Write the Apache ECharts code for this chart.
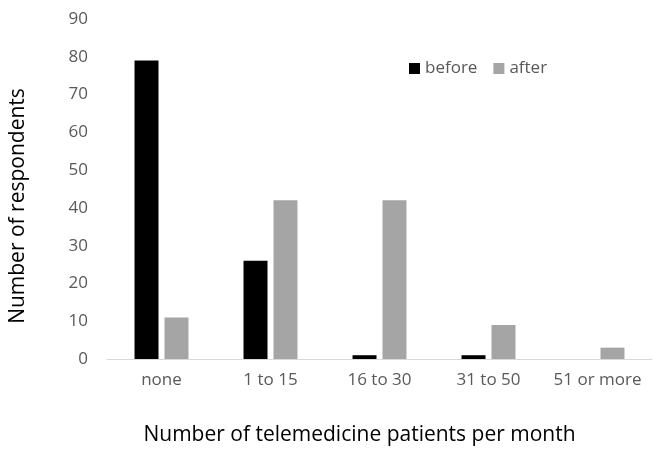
<!DOCTYPE html>
<html><head><meta charset="utf-8">
<script src="https://cdn.jsdelivr.net/npm/echarts@6/dist/echarts.min.js"></script>
<style>html,body{margin:0;padding:0;background:#fff}#c{width:662px;height:456px}</style>
</head><body><div id="c"></div>
<script>
const categories = ["none", "1 to 15", "16 to 30", "31 to 50", "51 or more"];
const beforeValues = [79, 26, 1, 1, 0];
const afterValues = [11, 42, 42, 9, 3];
const yTicks = [0, 10, 20, 30, 40, 50, 60, 70, 80, 90];

const chart = echarts.init(document.getElementById('c'), null, {renderer: 'canvas'});
const font = '"Open Sans", sans-serif';
chart.setOption({
  animation: false,
  backgroundColor: '#fff',
  textStyle: {fontFamily: font},
  grid: {left: 103, right: 10, top: 19, bottom: 97, containLabel: false},
  legend: {
    left: 404, top: 55, itemWidth: 11, itemHeight: 11, itemGap: 16,
    icon: 'rect',
    textStyle: {color: '#595959', fontSize: 17, fontFamily: font},
    data: ['before', 'after']
  },
  xAxis: {
    type: 'category', data: categories,
    axisLine: {lineStyle: {color: '#d9d9d9', width: 1}},
    axisTick: {show: false},
    axisLabel: {color: '#595959', fontSize: 17, margin: 13, fontFamily: font, interval: 0, hideOverlap: false},
    name: 'Number of telemedicine patients per month',
    nameLocation: 'middle', nameGap: 66,
    nameTextStyle: {color: '#000', fontSize: 21, fontFamily: font, padding: [0, 40, 0, 0]}
  },
  yAxis: {
    type: 'value', min: yTicks[0], max: yTicks[yTicks.length-1], interval: 10,
    splitLine: {show: false},
    axisLine: {show: false}, axisTick: {show: false},
    axisLabel: {color: '#595959', fontSize: 17, margin: 19, fontFamily: font},
    name: 'Number of respondents', nameLocation: 'middle', nameGap: 78,
    nameTextStyle: {color: '#000', fontSize: 21, fontFamily: font, padding: [0, 34, 0, 0]}
  },
  series: [
    {name: 'before', type: 'bar', data: beforeValues, barWidth: '22%', barGap: '25%',
     itemStyle: {color: '#000000'}},
    {name: 'after', type: 'bar', data: afterValues, barWidth: '22%',
     itemStyle: {color: '#a5a5a5'}}
  ]
});
</script></body></html>
